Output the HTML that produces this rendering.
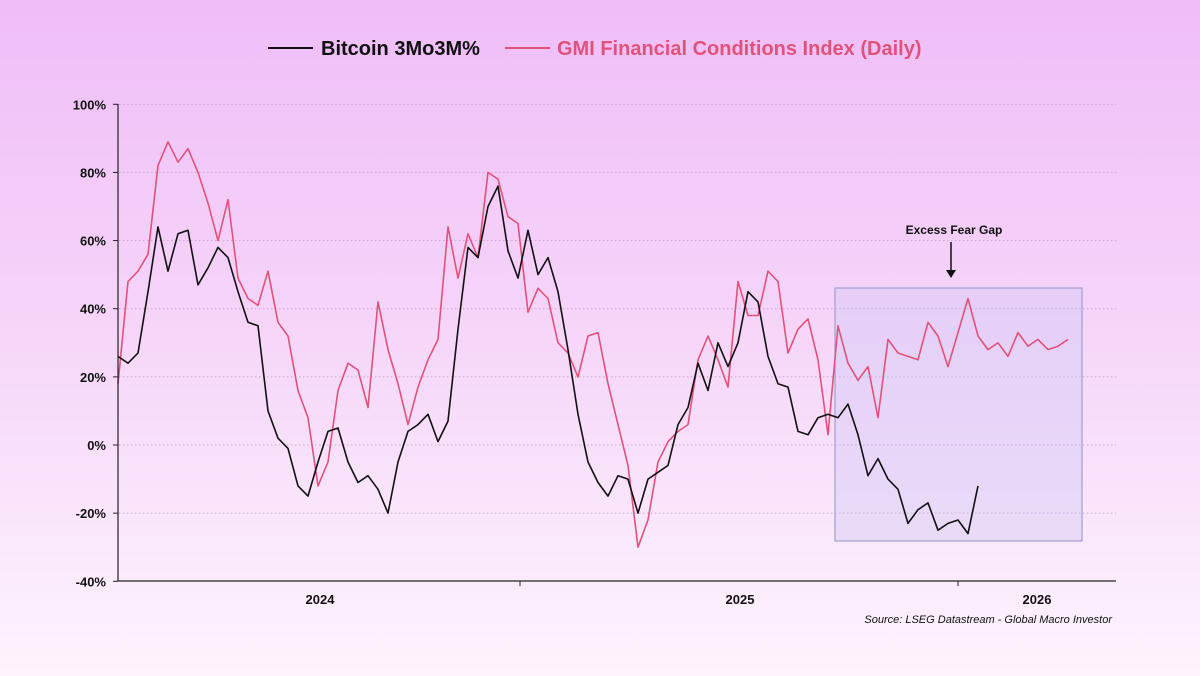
<!DOCTYPE html>
<html><head><meta charset="utf-8"><style>
html,body{margin:0;padding:0}
body{width:1200px;height:676px;overflow:hidden;background:linear-gradient(180deg,#efbdf8 0%,#f6d6f9 50%,#fdf4fd 100%);font-family:"Liberation Sans",sans-serif}
svg{display:block}
</style></head><body>
<svg id="chart" width="1200" height="676" xmlns="http://www.w3.org/2000/svg">
<g>
 <line x1="268" y1="48" x2="313" y2="48" stroke="#111" stroke-width="2"/>
 <text x="321" y="55" font-size="20" font-weight="bold" fill="#111">Bitcoin 3Mo3M%</text>
 <line x1="505" y1="48" x2="550" y2="48" stroke="#e0527a" stroke-width="2"/>
 <text x="557" y="55" font-size="20" font-weight="bold" fill="#e0527a">GMI Financial Conditions Index (Daily)</text>
</g>
<g id="grid"></g>
<g id="yticks"></g>
<rect x="835" y="288" width="247" height="253" fill="#cfc8f5" fill-opacity="0.4" stroke="#a09ed2" stroke-width="1.2"/>
<g id="series"></g>
<line x1="118" y1="581" x2="1116" y2="581" stroke="#222" stroke-width="1.2"/>
<line x1="118" y1="104" x2="118" y2="581" stroke="#222" stroke-width="1.2"/>
<g id="xticks"></g>
<text x="954" y="234" font-size="12" font-weight="bold" text-anchor="middle" fill="#111">Excess Fear Gap</text>
<line x1="951" y1="242" x2="951" y2="272" stroke="#111" stroke-width="1.5"/>
<polygon points="946,270 956,270 951,278" fill="#111"/>
<text x="1112" y="623" font-size="11" font-style="italic" text-anchor="end" fill="#111">Source: LSEG Datastream - Global Macro Investor</text>
</svg>
<script>
const yTicks=[100,80,60,40,20,0,-20,-40];
const xLabels=["2024","2025","2026"];
const xLabelPos=[20.2,62.2,91.9];
const xTickPos=[40.2,84];
const btc=[26,24,27,45,64,51,62,63,47,52,58,55,45,36,35,10,2,-1,-12,-15,-5,4,5,-5,-11,-9,-13,-20,-5,4,6,9,1,7,34,58,55,70,76,57,49,63,50,55,45,28,9,-5,-11,-15,-9,-10,-20,-10,-8,-6,6,11,24,16,30,23,30,45,42,26,18,17,4,3,8,9,8,12,3,-9,-4,-10,-13,-23,-19,-17,-25,-23,-22,-26,-12];
const gmi=[18,48,51,56,82,89,83,87,80,71,60,72,49,43,41,51,36,32,16,8,-12,-5,16,24,22,11,42,28,18,6,17,25,31,64,49,62,55,80,78,67,65,39,46,43,30,27,20,32,33,18,6,-6,-30,-22,-5,1,4,6,25,32,25,17,48,38,38,51,48,27,34,37,25,3,35,24,19,23,8,31,27,26,25,36,32,23,33,43,32,28,30,26,33,29,31,28,29,31];
const NS="http://www.w3.org/2000/svg";
const X0=118,STEP=10;
function xs(i){return X0+i*STEP;}
function ys(v){return 445-v*(477/140);}
const grid=document.getElementById('grid'),yt=document.getElementById('yticks'),xt=document.getElementById('xticks'),ser=document.getElementById('series');
yTicks.forEach(v=>{
 const y=ys(v);
 if(v!==-40){const l=document.createElementNS(NS,'line');
 l.setAttribute('x1',119);l.setAttribute('x2',1116);l.setAttribute('y1',y);l.setAttribute('y2',y);
 l.setAttribute('stroke','#c9a6cf');l.setAttribute('stroke-dasharray','1.5 2.5');
 
 
 grid.appendChild(l);}
 const tk=document.createElementNS(NS,'line');
 tk.setAttribute('x1',113);tk.setAttribute('x2',118);tk.setAttribute('y1',y);tk.setAttribute('y2',y);tk.setAttribute('stroke','#222');
 
 
 yt.appendChild(tk);
 const t=document.createElementNS(NS,'text');
 t.setAttribute('x',106);t.setAttribute('y',y+5);t.setAttribute('text-anchor','end');t.setAttribute('font-size','13');t.setAttribute('font-weight','bold');t.setAttribute('fill','#111');
 t.textContent=v+'%';
 
 
 yt.appendChild(t);
});
xTickPos.forEach(p=>{
 const l=document.createElementNS(NS,'line');const x=xs(p);
 l.setAttribute('x1',x);l.setAttribute('x2',x);l.setAttribute('y1',581);l.setAttribute('y2',586);l.setAttribute('stroke','#222');
 
 
 xt.appendChild(l);
});
xLabels.forEach((s,i)=>{
 const t=document.createElementNS(NS,'text');
 t.setAttribute('x',xs(xLabelPos[i]));t.setAttribute('y',604);t.setAttribute('text-anchor','middle');t.setAttribute('font-size','13');t.setAttribute('font-weight','bold');t.setAttribute('fill','#111');
 t.textContent=s;
 
 
 xt.appendChild(t);
});
function line(arr,color,name){
 const p=document.createElementNS(NS,'polyline');
 p.setAttribute('points',arr.map((v,i)=>xs(i)+','+ys(v).toFixed(1)).join(' '));
 p.setAttribute('fill','none');p.setAttribute('stroke',color);p.setAttribute('stroke-width','1.6');p.setAttribute('stroke-linejoin','round');
 
 
 ser.appendChild(p);
}
line(gmi,'#e0527a','gmi-line');
line(btc,'#111','bitcoin-line');
</script>
</body></html>
